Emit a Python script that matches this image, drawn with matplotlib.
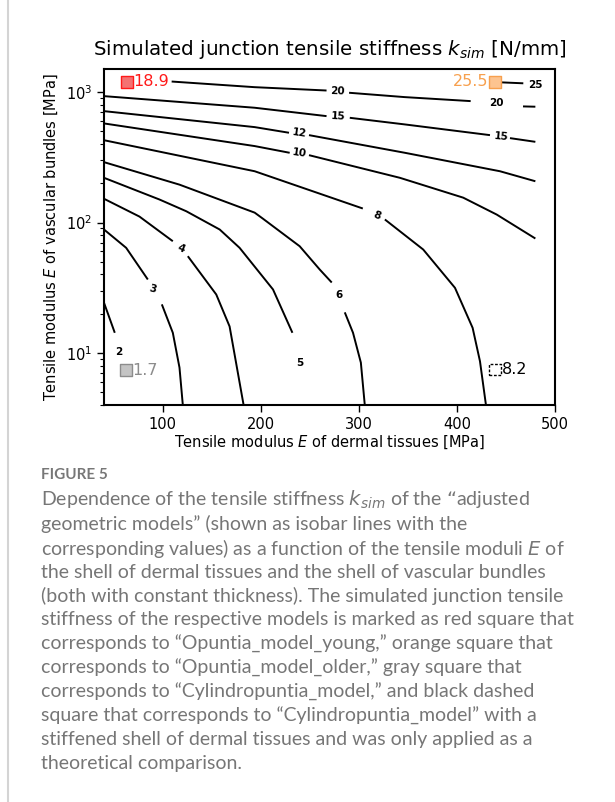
import matplotlib
matplotlib.use("Agg")
import matplotlib.pyplot as plt
from matplotlib.lines import Line2D

# isolines of k_sim [N/mm], (E dermal, E vascular) points, split where the labels sit
iso_2 = [[(40, 24.3), (51, 14.3)]]
iso_3 = [[(40, 88.4), (62.6, 64), (84.7, 36.6)],
         [(99, 23.6), (110.2, 14.3), (117, 7.74), (120.4, 4)]]
iso_4 = [[(40, 152), (76.2, 111), (110.2, 71.9)],
         [(125.5, 55.2), (154.5, 28.1), (168.1, 16.0), (182.4, 4)]]
iso_5 = [[(40, 220), (96.6, 150), (123.9, 122), (158, 88.4), (178.3, 64),
          (212.4, 30.7), (232.2, 14.3)]]
iso_6 = [[(40, 290), (117, 195), (193.7, 119), (202.1, 107), (239.6, 65.8),
          (260.1, 43.6), (272.3, 34.7)],
         [(285.6, 20.5), (294, 14.3), (302, 8.45), (306, 4)]]
iso_8 = [[(40, 427), (193.7, 247), (304, 128)],
         [(326.5, 105.5), (365.6, 62.1), (398, 31.6), (416, 15.6), (423.5, 8.65),
          (429.6, 4)]]
iso_10 = [[(40, 574), (193.7, 385), (229.4, 342)],
          [(249.1, 328), (341.8, 220), (406.4, 155), (440.6, 115), (480, 75.4)]]
iso_12 = [[(40, 713), (193.7, 538), (228.7, 487)],
          [(249.1, 467), (346.9, 342), (443.9, 247), (480, 207)]]
iso_15 = [[(40, 929), (193.7, 757), (267, 653)],
          [(290.7, 634), (346.9, 564), (433.7, 467)],
          [(454.1, 443), (480, 415)]]
iso_20 = [[(109, 1202), (193.7, 1088), (267, 1026)],
          [(290, 986), (346.9, 913), (414, 851)],
          [(467.4, 775), (480, 771)]]
iso_25 = [[(438.8, 1190), (467.7, 1165)]]

# inline contour labels
lab_text = ['20', '20', '25', '15', '15', '12', '10', '8', '6', '5', '4', '3', '2']
lab_x = [277.7, 440.6, 479.7, 278.4, 445, 238.9, 239.6, 318.6, 279.5, 239.6, 118.8, 89.8, 54.7]
lab_y = [1010, 817, 1127, 649, 456, 481, 338, 113, 27.6, 8.45, 62.9, 30.7, 10.2]
lab_rot = [-2, 0, 0, -3, -5, -8, -8, -22, 0, 0, -22, -15, 0]

# simulated models
models = ['Opuntia_model_young', 'Opuntia_model_older', 'Cylindropuntia_model',
          'Cylindropuntia_model (stiffened)']
e_dermal = [63, 439, 62, 439]
e_vascular = [1200, 1200, 7.4, 7.5]
k_sim = [18.9, 25.5, 1.7, 8.2]

caption = [
    "Dependence of the tensile stiffness $k_{sim}$ of the \u201cadjusted",
    "geometric models\u201d (shown as isobar lines with the",
    "corresponding values) as a function of the tensile moduli $E$ of",
    "the shell of dermal tissues and the shell of vascular bundles",
    "(both with constant thickness). The simulated junction tensile",
    "stiffness of the respective models is marked as red square that",
    "corresponds to \u201cOpuntia_model_young,\u201d orange square that",
    "corresponds to \u201cOpuntia_model_older,\u201d gray square that",
    "corresponds to \u201cCylindropuntia_model,\u201d and black dashed",
    "square that corresponds to \u201cCylindropuntia_model\u201d with a",
    "stiffened shell of dermal tissues and was only applied as a",
    "theoretical comparison.",
]


def main():
    fig = plt.figure(figsize=(6.15, 8.02), dpi=100)
    ax = fig.add_axes([0.1691, 0.4950, 0.7333, 0.4190])
    ax.set_yscale('log')

    for iso in [iso_2, iso_3, iso_4, iso_5, iso_6, iso_8, iso_10, iso_12, iso_15, iso_20, iso_25]:
        for seg in iso:
            xs = [p[0] for p in seg]
            ys = [p[1] for p in seg]
            ax.plot(xs, ys, color='black', lw=1.4, solid_capstyle='butt')

    for t, x, y, r in zip(lab_text, lab_x, lab_y, lab_rot):
        ax.text(x, y, t, fontsize=7.5, fontweight='bold', rotation=r,
                ha='center', va='center')

    # model markers
    face = ['#f47272', '#fdc490', '#c4c4c4', 'white']
    edge = ['#ff1a1a', '#f7a04e', '#8c8c8c', 'black']
    tcol = ['#ff1a1a', '#f7a04e', '#8c8c8c', 'black']
    side = [1, -1, 1, 1]
    for i in range(len(models)):
        ls = (0, (2, 1.2)) if i == 3 else '-'
        ax.scatter([e_dermal[i]], [e_vascular[i]], s=70, marker='s', c=face[i],
                   edgecolors=edge[i], linewidths=1.0, linestyles=[ls], zorder=5)
        ax.annotate(f"{k_sim[i]}", (e_dermal[i], e_vascular[i]),
                    xytext=(5 * side[i], 0), textcoords='offset points',
                    ha='left' if side[i] > 0 else 'right', va='center',
                    fontsize=11.5, color=tcol[i])

    ax.set_xlim(40, 500)
    ax.set_ylim(4, 1500)
    ax.set_xticks([100, 200, 300, 400, 500])
    ax.tick_params(axis='both', which='major', labelsize=10.5, length=5, width=1)
    ax.tick_params(axis='both', which='minor', length=3, width=0.8)
    for s in ax.spines.values():
        s.set_linewidth(1.5)

    ax.set_title(r"Simulated junction tensile stiffness $k_{sim}$ [N/mm]",
                 fontsize=14.3, pad=10)
    ax.set_xlabel(r"Tensile modulus $E$ of dermal tissues [MPa]", fontsize=10.5, labelpad=1)
    ax.set_ylabel(r"Tensile modulus $E$ of vascular bundles [MPa]", fontsize=10.5, labelpad=4)

    # page decoration and caption
    fig.add_artist(Line2D([8 / 615, 8 / 615], [0, 1], color='#d4d4d4', lw=1.5))
    fig.text(41 / 615, 1 - 475 / 802, "FIGURE 5", fontsize=11, color='#777777',
             fontweight='bold', family='Lato', va='center')
    for i, line in enumerate(caption):
        fig.text(41 / 615, 1 - (500 + 24 * i) / 802, line, fontsize=14, color='#767676',
                 family='Lato', va='center')

    fig.savefig('out.png', dpi=100)


if __name__ == '__main__':
    main()
